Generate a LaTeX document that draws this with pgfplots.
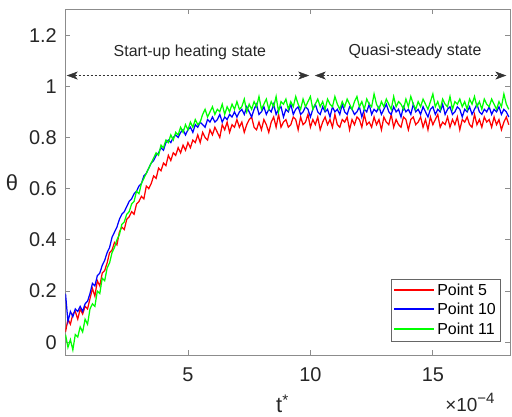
\documentclass[border=0pt]{standalone}
\usepackage{pgfplots}
\pgfplotsset{compat=1.18}
\usepackage{pgfplotstable}
\usepackage{fontspec}
\setmainfont{Liberation Sans}
\usetikzlibrary{arrows.meta}

% t* (x 1e-4), theta
\pgfplotstableread{
t y
0.0 0.04
0.1 0.09
0.2 0.07
0.3 0.11
0.4 0.12
0.5 0.09
0.6 0.13
0.7 0.11
0.8 0.14
0.9 0.13
1.0 0.17
1.1 0.21
1.2 0.18
1.3 0.24
1.4 0.22
1.5 0.27
1.6 0.28
1.7 0.31
1.8 0.35
1.9 0.36
2.0 0.39
2.1 0.38
2.2 0.43
2.3 0.45
2.4 0.44
2.5 0.48
2.6 0.49
2.7 0.51
2.8 0.50
2.9 0.54
3.0 0.55
3.1 0.57
3.2 0.56
3.3 0.61
3.4 0.60
3.5 0.62
3.6 0.65
3.7 0.64
3.8 0.68
3.9 0.67
4.0 0.70
4.1 0.69
4.2 0.73
4.3 0.71
4.4 0.74
4.5 0.73
4.6 0.76
4.7 0.74
4.8 0.77
4.9 0.75
5.0 0.78
5.1 0.76
5.2 0.79
5.3 0.78
5.4 0.81
5.5 0.78
5.6 0.82
5.7 0.80
5.8 0.79
5.9 0.83
6.0 0.81
6.1 0.84
6.2 0.82
6.3 0.80
6.4 0.85
6.5 0.83
6.6 0.86
6.7 0.82
6.8 0.85
6.9 0.84
7.0 0.87
7.1 0.84
7.2 0.86
7.3 0.82
7.4 0.85
7.5 0.87
7.6 0.88
7.7 0.84
7.8 0.83
7.9 0.86
8.0 0.83
8.1 0.87
8.2 0.85
8.3 0.82
8.4 0.86
8.5 0.88
8.6 0.84
8.7 0.89
8.8 0.84
8.9 0.86
9.0 0.87
9.1 0.84
9.2 0.85
9.3 0.88
9.4 0.87
9.5 0.83
9.6 0.88
9.7 0.85
9.8 0.86
9.9 0.89
10.0 0.84
10.1 0.87
10.2 0.85
10.3 0.88
10.4 0.83
10.5 0.86
10.6 0.88
10.7 0.85
10.8 0.87
10.9 0.84
11.0 0.89
11.1 0.85
11.2 0.84
11.3 0.87
11.4 0.86
11.5 0.88
11.6 0.83
11.7 0.87
11.8 0.85
11.9 0.88
12.0 0.87
12.1 0.84
12.2 0.89
12.3 0.85
12.4 0.86
12.5 0.84
12.6 0.88
12.7 0.85
12.8 0.87
12.9 0.83
13.0 0.88
13.1 0.86
13.2 0.85
13.3 0.89
13.4 0.84
13.5 0.87
13.6 0.85
13.7 0.84
13.8 0.88
13.9 0.87
14.0 0.83
14.1 0.87
14.2 0.88
14.3 0.85
14.4 0.86
14.5 0.88
14.6 0.84
14.7 0.87
14.8 0.83
14.9 0.88
15.0 0.85
15.1 0.87
15.2 0.89
15.3 0.84
15.4 0.86
15.5 0.85
15.6 0.88
15.7 0.84
15.8 0.87
15.9 0.85
16.0 0.88
16.1 0.83
16.2 0.87
16.3 0.86
16.4 0.88
16.5 0.85
16.6 0.84
16.7 0.89
16.8 0.85
16.9 0.87
17.0 0.84
17.1 0.88
17.2 0.86
17.3 0.87
17.4 0.84
17.5 0.88
17.6 0.85
17.7 0.87
17.8 0.83
17.9 0.86
18.0 0.88
18.1 0.85
}\pointfive

\pgfplotstableread{
t y
0.0 0.19
0.1 0.08
0.2 0.12
0.3 0.10
0.4 0.13
0.5 0.12
0.6 0.14
0.7 0.12
0.8 0.15
0.9 0.16
1.0 0.19
1.1 0.23
1.2 0.22
1.3 0.26
1.4 0.27
1.5 0.30
1.6 0.32
1.7 0.35
1.8 0.37
1.9 0.41
2.0 0.43
2.1 0.45
2.2 0.48
2.3 0.50
2.4 0.51
2.5 0.53
2.6 0.55
2.7 0.56
2.8 0.58
2.9 0.59
3.0 0.61
3.1 0.62
3.2 0.65
3.3 0.66
3.4 0.68
3.5 0.70
3.6 0.71
3.7 0.73
3.8 0.74
3.9 0.76
4.0 0.75
4.1 0.78
4.2 0.79
4.3 0.78
4.4 0.80
4.5 0.81
4.6 0.80
4.7 0.82
4.8 0.83
4.9 0.81
5.0 0.83
5.1 0.84
5.2 0.82
5.3 0.85
5.4 0.84
5.5 0.86
5.6 0.85
5.7 0.84
5.8 0.87
5.9 0.86
6.0 0.88
6.1 0.86
6.2 0.87
6.3 0.89
6.4 0.86
6.5 0.88
6.6 0.87
6.7 0.89
6.8 0.88
6.9 0.90
7.0 0.88
7.1 0.90
7.2 0.91
7.3 0.89
7.4 0.92
7.5 0.90
7.6 0.88
7.7 0.91
7.8 0.93
7.9 0.89
8.0 0.90
8.1 0.92
8.2 0.89
8.3 0.91
8.4 0.90
8.5 0.93
8.6 0.89
8.7 0.91
8.8 0.92
8.9 0.88
9.0 0.91
9.1 0.90
9.2 0.93
9.3 0.89
9.4 0.91
9.5 0.92
9.6 0.89
9.7 0.90
9.8 0.92
9.9 0.91
10.0 0.88
10.1 0.91
10.2 0.93
10.3 0.90
10.4 0.89
10.5 0.92
10.6 0.90
10.7 0.91
10.8 0.88
10.9 0.92
11.0 0.90
11.1 0.91
11.2 0.89
11.3 0.93
11.4 0.90
11.5 0.89
11.6 0.92
11.7 0.91
11.8 0.89
11.9 0.90
12.0 0.92
12.1 0.88
12.2 0.91
12.3 0.90
12.4 0.93
12.5 0.89
12.6 0.91
12.7 0.90
12.8 0.92
12.9 0.89
13.0 0.91
13.1 0.93
13.2 0.90
13.3 0.89
13.4 0.92
13.5 0.90
13.6 0.91
13.7 0.88
13.8 0.92
13.9 0.90
14.0 0.91
14.1 0.89
14.2 0.93
14.3 0.90
14.4 0.91
14.5 0.89
14.6 0.92
14.7 0.90
14.8 0.88
14.9 0.91
15.0 0.92
15.1 0.89
15.2 0.91
15.3 0.90
15.4 0.93
15.5 0.89
15.6 0.91
15.7 0.92
15.8 0.89
15.9 0.90
16.0 0.92
16.1 0.91
16.2 0.88
16.3 0.91
16.4 0.90
16.5 0.92
16.6 0.89
16.7 0.91
16.8 0.93
16.9 0.90
17.0 0.89
17.1 0.91
17.2 0.90
17.3 0.92
17.4 0.89
17.5 0.91
17.6 0.90
17.7 0.92
17.8 0.89
17.9 0.91
18.0 0.90
18.1 0.88
}\pointten

\pgfplotstableread{
t y
0.0 0.03
0.1 -0.02
0.2 0.01
0.3 -0.03
0.4 0.03
0.5 0.02
0.6 0.06
0.7 0.04
0.8 0.09
0.9 0.07
1.0 0.13
1.1 0.15
1.2 0.14
1.3 0.20
1.4 0.19
1.5 0.25
1.6 0.24
1.7 0.29
1.8 0.31
1.9 0.35
2.0 0.37
2.1 0.40
2.2 0.42
2.3 0.46
2.4 0.47
2.5 0.50
2.6 0.51
2.7 0.54
2.8 0.55
2.9 0.59
3.0 0.58
3.1 0.62
3.2 0.64
3.3 0.66
3.4 0.68
3.5 0.70
3.6 0.72
3.7 0.74
3.8 0.73
3.9 0.77
4.0 0.76
4.1 0.79
4.2 0.78
4.3 0.81
4.4 0.79
4.5 0.82
4.6 0.81
4.7 0.84
4.8 0.82
4.9 0.85
5.0 0.83
5.1 0.86
5.2 0.84
5.3 0.87
5.4 0.85
5.5 0.86
5.6 0.89
5.7 0.91
5.8 0.88
5.9 0.90
6.0 0.92
6.1 0.89
6.2 0.91
6.3 0.90
6.4 0.93
6.5 0.89
6.6 0.92
6.7 0.90
6.8 0.93
6.9 0.91
7.0 0.94
7.1 0.91
7.2 0.92
7.3 0.95
7.4 0.90
7.5 0.93
7.6 0.91
7.7 0.94
7.8 0.92
7.9 0.96
8.0 0.91
8.1 0.93
8.2 0.95
8.3 0.91
8.4 0.94
8.5 0.92
8.6 0.96
8.7 0.90
8.8 0.94
8.9 0.93
9.0 0.95
9.1 0.91
9.2 0.94
9.3 0.92
9.4 0.96
9.5 0.93
9.6 0.91
9.7 0.95
9.8 0.92
9.9 0.94
10.0 0.96
10.1 0.91
10.2 0.93
10.3 0.95
10.4 0.92
10.5 0.94
10.6 0.91
10.7 0.95
10.8 0.93
10.9 0.92
11.0 0.96
11.1 0.93
11.2 0.91
11.3 0.94
11.4 0.92
11.5 0.95
11.6 0.93
11.7 0.91
11.8 0.94
11.9 0.96
12.0 0.92
12.1 0.94
12.2 0.91
12.3 0.95
12.4 0.93
12.5 0.92
12.6 0.97
12.7 0.93
12.8 0.91
12.9 0.94
13.0 0.92
13.1 0.95
13.2 0.93
13.3 0.91
13.4 0.96
13.5 0.92
13.6 0.94
13.7 0.93
13.8 0.91
13.9 0.95
14.0 0.92
14.1 0.96
14.2 0.93
14.3 0.91
14.4 0.94
14.5 0.92
14.6 0.95
14.7 0.93
14.8 0.91
14.9 0.94
15.0 0.97
15.1 0.92
15.2 0.94
15.3 0.91
15.4 0.95
15.5 0.93
15.6 0.92
15.7 0.96
15.8 0.91
15.9 0.94
16.0 0.93
16.1 0.95
16.2 0.92
16.3 0.94
16.4 0.91
16.5 0.95
16.6 0.93
16.7 0.96
16.8 0.92
16.9 0.94
17.0 0.91
17.1 0.95
17.2 0.93
17.3 0.92
17.4 0.95
17.5 0.93
17.6 0.91
17.7 0.94
17.8 0.92
17.9 0.97
18.0 0.93
18.1 0.91
}\pointeleven

\begin{document}
\begin{tikzpicture}
\begin{axis}[
    name=ax,
    scale only axis,
    width=444.5bp, height=345.5bp,
    xmin=0, xmax=18.15,
    ymin=-0.05, ymax=1.3,
    xtick={5,10,15},
    xticklabels={5,10,15},
    ytick={0,0.2,0.4,0.6,0.8,1,1.2},
    yticklabels={0,0.2,0.4,0.6,0.8,1,1.2},
    tick label style={font=\fontsize{20}{22}\selectfont, text=black!85},
    xticklabel style={anchor=base, yshift=-26.5bp},
    yticklabel style={anchor=east, inner sep=0pt, xshift=-8.5bp},
    axis line style={black!45, line width=0.8bp},
    tick style={black!45, line width=0.8bp},
    major tick length=5bp,
    tick align=inside,
    legend cell align=left,
    legend style={at={(rel axis cs:1,0)}, anchor=south east,
        xshift=-10bp, yshift=14bp,
        font=\fontsize{16}{18}\selectfont,
        draw=black!60,
        inner xsep=2bp, inner ysep=3bp, row sep=2.5bp},
    legend image code/.code={\draw[#1, line width=2bp] (0bp,0.5bp) -- (40bp,0.5bp);},
    every axis plot/.append style={line width=1.25bp},
]
\addplot[red] table {\pointfive};
\addlegendentry{Point 5}
\addplot[blue] table {\pointten};
\addlegendentry{Point 10}
\addplot[green] table {\pointeleven};
\addlegendentry{Point 11}

\draw[black!80, line width=0.5bp, dash pattern=on 2bp off 2bp,
      {Stealth[length=11bp,width=8bp,inset=3bp]}-{Stealth[length=11bp,width=8bp,inset=3bp]}]
      (axis cs:0.05,1.042) -- (axis cs:9.95,1.042);
\draw[black!80, line width=0.5bp, dash pattern=on 2bp off 2bp,
      {Stealth[length=11bp,width=8bp,inset=3bp]}-{Stealth[length=11bp,width=8bp,inset=3bp]}]
      (axis cs:10.18,1.042) -- (axis cs:18.0,1.042);
\node[anchor=base, font=\fontsize{16}{18}\selectfont, text=black!85] at (axis cs:5.08,1.118) {Start-up heating state};
\node[anchor=base, font=\fontsize{16}{18}\selectfont, text=black!85] at (axis cs:14.27,1.121) {Quasi-steady state};
\end{axis}
\node[font=\fontsize{22}{24}\selectfont, text=black!85] at (ax.south west) [xshift=-53.5bp, yshift=172bp] {θ};
\node[font=\fontsize{22}{24}\selectfont, text=black!85] at (ax.south west) [xshift=217bp, yshift=-49bp] {t\textsuperscript{*}};
\node[anchor=base east, font=\fontsize{19}{21}\selectfont, text=black!85] at (ax.south east) [xshift=-12bp, yshift=-56.7bp] {×10\raisebox{8bp}{\fontsize{15}{15}\selectfont −4}};
\path (ax.south west) ++(-65.5bp,-62bp);
\path (ax.north east) ++(2bp,9.5bp);
\end{tikzpicture}
\end{document}
